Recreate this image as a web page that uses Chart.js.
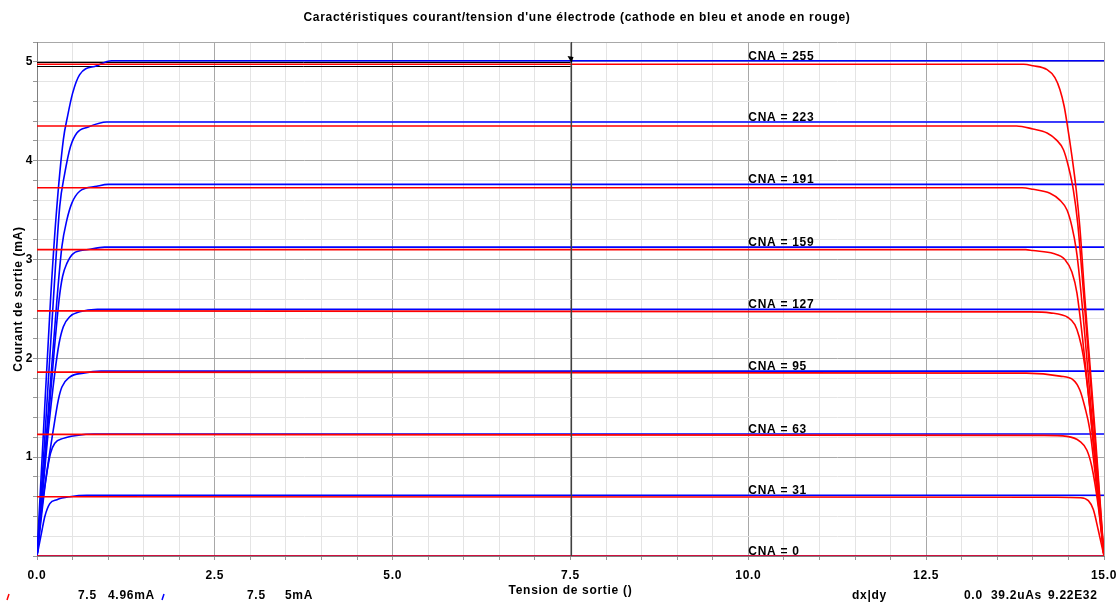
<!DOCTYPE html>
<html>
<head>
<meta charset="utf-8">
<script src="https://cdn.jsdelivr.net/npm/chart.js"></script>
<style>
  html, body { margin: 0; padding: 0; background: #fff; }
  #wrap { width: 1120px; height: 603px; }
</style>
</head>
<body>
<div id="wrap"><canvas id="iv" width="1120" height="603"></canvas></div>
<script>
// DAC codes, one curve pair per code
const cna = [255, 223, 191, 159, 127, 95, 63, 31, 0];

// cathode (blue): knee near 0 V, then flat to 15 V
const cathodeLevel = [5.01, 4.39, 3.76, 3.125, 2.495, 1.87, 1.235, 0.615, 0];
const cathodeRiseV = [
  [0, 0.09, 0.19, 0.27, 0.37, 0.43, 0.50, 0.60, 0.84, 1.05],
  [0, 0.11, 0.23, 0.32, 0.39, 0.47, 0.56, 0.72, 0.98],
  [0, 0.13, 0.28, 0.35, 0.42, 0.49, 0.60, 0.84, 1.00],
  [0, 0.14, 0.31, 0.36, 0.42, 0.51, 0.72, 0.95],
  [0, 0.15, 0.25, 0.31, 0.37, 0.46, 0.60, 0.85],
  [0, 0.12, 0.23, 0.30, 0.35, 0.46, 0.65, 0.90],
  [0, 0.07, 0.145, 0.19, 0.25, 0.37, 0.56, 0.80],
  [0, 0.07, 0.11, 0.18, 0.28, 0.46, 0.70],
  [0]
];
const cathodeRiseI = [
  [0, 1.25, 2.59, 3.45, 4.21, 4.45, 4.68, 4.87, 4.96, 5.01],
  [0, 1.20, 2.59, 3.54, 3.87, 4.14, 4.28, 4.34, 4.39],
  [0, 1.20, 2.59, 3.13, 3.40, 3.57, 3.69, 3.74, 3.76],
  [0, 1.20, 2.59, 2.83, 2.96, 3.06, 3.10, 3.125],
  [0, 1.20, 1.85, 2.15, 2.32, 2.42, 2.47, 2.495],
  [0, 0.75, 1.28, 1.58, 1.71, 1.81, 1.85, 1.87],
  [0, 0.50, 0.87, 1.04, 1.14, 1.19, 1.22, 1.235],
  [0, 0.26, 0.40, 0.53, 0.57, 0.60, 0.615],
  [0]
];

// anode (red): flat from 0 V, falls to 0 mA at 15 V
const anodeLevel = [4.975, 4.35, 3.725, 3.10, 2.48, 1.86, 1.23, 0.60, 0];
const anodeFallV = [
  [13.87, 14.00, 14.20, 14.31, 14.38, 14.44, 14.48, 14.55, 14.61, 14.66, 14.73, 14.87, 15],
  [13.77, 14.00, 14.20, 14.33, 14.43, 14.50, 14.57, 14.63, 14.69, 14.85, 15],
  [13.85, 14.00, 14.24, 14.38, 14.48, 14.55, 14.61, 14.66, 14.83, 15],
  [13.90, 14.00, 14.29, 14.45, 14.55, 14.62, 14.80, 15],
  [13.96, 14.24, 14.50, 14.59, 14.65, 14.71, 14.80, 15],
  [13.91, 14.38, 14.57, 14.66, 14.73, 14.80, 14.90, 15],
  [14.15, 14.48, 14.66, 14.76, 14.83, 14.92, 15],
  [14.34, 14.66, 14.78, 14.85, 14.92, 15],
  [15]
];
const anodeFallI = [
  [4.975, 4.96, 4.92, 4.84, 4.72, 4.55, 4.38, 4.04, 3.70, 3.33, 2.62, 1.30, 0],
  [4.35, 4.32, 4.28, 4.21, 4.11, 3.94, 3.70, 3.37, 2.86, 1.40, 0],
  [3.725, 3.71, 3.67, 3.60, 3.50, 3.33, 3.10, 2.79, 1.40, 0],
  [3.10, 3.09, 3.06, 3.00, 2.87, 2.66, 1.50, 0],
  [2.47, 2.46, 2.41, 2.34, 2.22, 2.02, 1.51, 0],
  [1.85, 1.82, 1.78, 1.68, 1.51, 1.28, 0.67, 0],
  [1.22, 1.21, 1.16, 1.07, 0.90, 0.50, 0],
  [0.595, 0.59, 0.56, 0.47, 0.26, 0],
  [0]
];

// measurement cursor
const cursorV = 7.5;
const cursorRedI = 4.96;
const cursorBlueI = 5;
const deltaText = ['dx|dy', '0.0', '39.2uAs', '9.22E32'];

const xTickStep = 2.5, yTickStep = 1;
const vMax = 15, iMax = 5.2;

const FONT = 'bold 12px "Liberation Sans", Arial, sans-serif';
const fontObj = { family: '"Liberation Sans", Arial, sans-serif', size: 12, weight: 'bold' };
const SPACING = '0.7px';

function zip(xs, ys) { return xs.map((x, i) => ({ x: x, y: ys[i] })); }

const datasets = [];
cna.forEach((code, k) => {
  datasets.push({
    label: 'anode ' + code,
    data: [{ x: 0, y: anodeLevel[k] }].concat(zip(anodeFallV[k], anodeFallI[k])),
    borderColor: '#ff0000', borderWidth: 1.6, order: 0
  });
});
cna.forEach((code, k) => {
  datasets.push({
    label: 'cathode ' + code,
    data: zip(cathodeRiseV[k], cathodeRiseI[k]).concat([{ x: vMax, y: cathodeLevel[k] }]),
    borderColor: '#0000ff', borderWidth: 1.6, order: 1
  });
});

const near = (v, step) => Math.abs(v / step - Math.round(v / step)) < 1e-6;

// wider text, like the old windows rendering
const spacing = {
  id: 'spacing',
  beforeUpdate(chart) { chart.ctx.letterSpacing = SPACING; },
  beforeDraw(chart) { chart.ctx.letterSpacing = SPACING; }
};

const overlay = {
  id: 'overlay',
  beforeDatasetsDraw(chart) {
    const { ctx, chartArea: a, scales: { x, y } } = chart;
    const cx = x.getPixelForValue(cursorV);
    ctx.save();
    ctx.strokeStyle = '#000';
    ctx.lineWidth = 1;
    [cursorBlueI, cursorRedI].forEach(v => {
      const py = Math.round(y.getPixelForValue(v)) + 0.5;
      ctx.beginPath(); ctx.moveTo(a.left, py); ctx.lineTo(cx, py); ctx.stroke();
    });
    ctx.restore();
  },
  afterDatasetsDraw(chart) {
    const { ctx, chartArea: a, scales: { x, y } } = chart;
    ctx.save();
    // vertical cursor
    const cx = Math.round(x.getPixelForValue(cursorV)) + 0.5;
    ctx.strokeStyle = '#404040';
    ctx.lineWidth = 1.2;
    ctx.beginPath(); ctx.moveTo(cx, a.top); ctx.lineTo(cx, a.bottom); ctx.stroke();
    ctx.fillStyle = '#000';
    ctx.beginPath();
    ctx.moveTo(cx - 4, 56); ctx.lineTo(cx + 2, 57); ctx.lineTo(cx, 63); ctx.closePath(); ctx.fill();

    // curve labels
    ctx.font = FONT;
    ctx.fillStyle = '#000';
    ctx.textBaseline = 'alphabetic';
    ctx.textAlign = 'left';
    cna.forEach((code, k) => {
      ctx.fillText('CNA = ' + code, x.getPixelForValue(10), y.getPixelForValue(cathodeLevel[k]) - 1);
    });
    ctx.restore();
  },
  afterDraw(chart) {
    const { ctx } = chart;
    ctx.save();
    // title
    ctx.font = FONT;
    ctx.fillStyle = '#000';
    ctx.textAlign = 'center';
    ctx.textBaseline = 'middle';
    ctx.fillText("Caractéristiques courant/tension d'une électrode (cathode en bleu et anode en rouge)", 577, 18);

    // cursor readouts
    const sy = 596;
    ctx.textAlign = 'left';
    const mark = (px, col) => {
      ctx.strokeStyle = col; ctx.lineWidth = 1.5;
      ctx.beginPath(); ctx.moveTo(px + 2, sy - 2); ctx.lineTo(px, sy + 4); ctx.stroke();
    };
    mark(7, '#ff0000');
    ctx.fillText(cursorV.toFixed(1), 78, sy);
    ctx.fillText(cursorRedI + 'mA', 108, sy);
    mark(162, '#0000ff');
    ctx.fillText(cursorV.toFixed(1), 247, sy);
    ctx.fillText(cursorBlueI + 'mA', 285, sy);
    const dx = [852, 964, 991, 1048];
    deltaText.forEach((t, i) => ctx.fillText(t, dx[i], sy));
    ctx.restore();
  }
};

new Chart(document.getElementById('iv'), {
  type: 'line',
  data: { datasets: datasets },
  plugins: [spacing, overlay],
  options: {
    responsive: false,
    animation: false,
    events: [],
    layout: { padding: { top: 42, right: 16, left: 0, bottom: 0 } },
    elements: {
      point: { radius: 0 },
      line: { cubicInterpolationMode: 'monotone', fill: false }
    },
    plugins: { legend: { display: false }, title: { display: false }, tooltip: { enabled: false } },
    scales: {
      x: {
        type: 'linear', min: 0, max: vMax,
        ticks: {
          stepSize: 0.5, autoSkip: false, maxRotation: 0, padding: 8,
          color: '#000', font: fontObj,
          callback: v => near(v, xTickStep) ? v.toFixed(1) : ''
        },
        grid: {
          tickLength: 4,
          tickColor: '#999',
          color: c => near(c.tick.value, xTickStep) ? '#a8a8a8' : '#e4e4e4'
        },
        border: { color: '#808080' },
        title: { display: true, text: 'Tension de sortie ()', color: '#000', font: fontObj, padding: { top: 0, bottom: 5 } },
        afterFit: s => { s.height = 47; s.paddingLeft = 0; s.paddingRight = 0; }
      },
      y: {
        type: 'linear', min: 0, max: iMax,
        ticks: {
          stepSize: 0.2, autoSkip: false, padding: 0,
          color: '#000', font: fontObj,
          callback: v => (v > 0.5 && near(v, yTickStep)) ? String(Math.round(v)) : ''
        },
        grid: {
          tickLength: 4,
          tickColor: '#999',
          color: c => (near(c.tick.value, yTickStep) || Math.abs(c.tick.value - iMax) < 1e-6) ? '#a8a8a8' : '#e4e4e4'
        },
        border: { color: '#808080' },
        title: { display: true, text: 'Courant de sortie (mA)', color: '#000', font: fontObj, padding: { top: 11, bottom: 0 } },
        afterFit: s => { s.width = 37; s.paddingTop = 0; s.paddingBottom = 0; }
      }
    }
  }
});
</script>
</body>
</html>
